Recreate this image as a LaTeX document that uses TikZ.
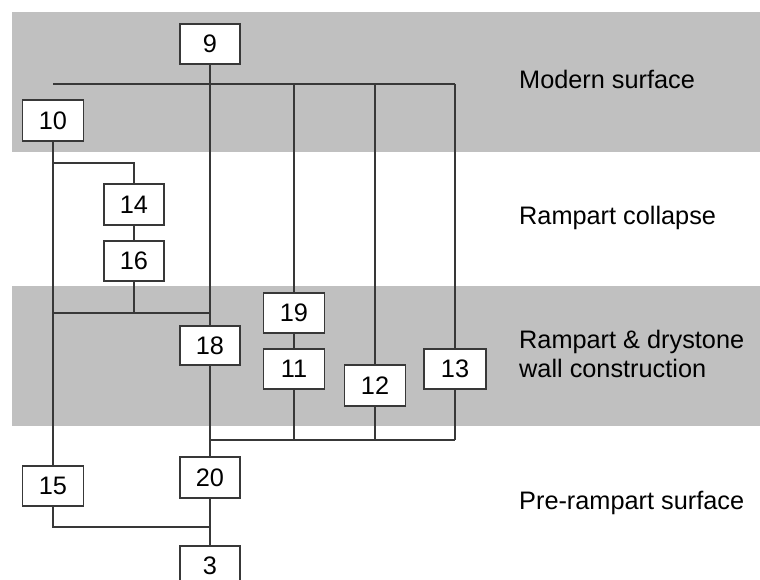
\documentclass[tikz,border=0pt]{standalone}
\usepackage{fontspec}
\setmainfont{Liberation Sans}
\begin{document}
\begin{tikzpicture}[x=1pt,y=-1pt,
  box/.style={draw=linec,line width=1.5pt,fill=white,minimum width=61pt,minimum height=41pt,inner sep=0pt,font=\fontsize{25.3}{29}\selectfont},
  lbl/.style={anchor=base west,inner sep=0pt,font=\fontsize{25.3}{29}\selectfont,text=black},
  conn/.style={draw=linec,line width=1.5pt}]
\definecolor{linec}{HTML}{383838}
\definecolor{band}{HTML}{C0C0C0}
\useasboundingbox (0,0) rectangle (760,580);
\clip (0,0) rectangle (760,580);
\fill[band] (12,12) rectangle (760,152);
\fill[band] (12,286) rectangle (760,426);
% boxes
\node[box,minimum width=60pt,minimum height=40pt] (n9) at (210,44) {9};
\node[box] (n10) at (53,120.5) {10};
\node[box,minimum width=60pt] (n14) at (134,204.5) {14};
\node[box,minimum width=60pt,minimum height=40pt] (n16) at (134,261) {16};
\node[box,minimum width=60pt,minimum height=39pt] (n18) at (210,345.5) {18};
\node[box,minimum height=40pt] (n19) at (294,313) {19};
\node[box,minimum height=40pt] (n11) at (294,369) {11};
\node[box] (n12) at (375,385.5) {12};
\node[box,minimum width=62pt,minimum height=40pt] (n13) at (455,369) {13};
\node[box,minimum height=40pt] (n15) at (53,486) {15};
\node[box,minimum width=60pt] (n20) at (210,477.5) {20};
\node[box,minimum width=60pt,minimum height=40pt] (n3) at (210,566) {3};
% junction coordinates
\coordinate (jt10) at (53,84);
\coordinate (jt19) at (294,84);
\coordinate (jt12) at (375,84);
\coordinate (jt13) at (455,84);
\coordinate (j14a) at (53,163);
\coordinate (j14b) at (134,163);
\coordinate (j16a) at (53,313);
\coordinate (j16b) at (134,313);
\coordinate (j16c) at (210,313);
\coordinate (jb18) at (210,440);
\coordinate (jb11) at (294,440);
\coordinate (jb12) at (375,440);
\coordinate (jb13) at (455,440);
\coordinate (j15) at (53,527);
\coordinate (j3) at (210,527);
% connectors
\draw[conn] (jt10) -- (jt13);
\draw[conn] (n9.south) -- (n18.north);
\draw[conn] (n10.south) -- (n15.north);
\draw[conn] (j14a) -- (j14b) -- (n14.north);
\draw[conn] (n14.south) -- (n16.north);
\draw[conn] (n16.south) -- (j16b);
\draw[conn] (j16a) -- (j16c);
\draw[conn] (jt19) -- (n19.north);
\draw[conn] (n19.south) -- (n11.north);
\draw[conn] (n11.south) -- (jb11);
\draw[conn] (jt12) -- (n12.north);
\draw[conn] (n12.south) -- (jb12);
\draw[conn] (jt13) -- (n13.north);
\draw[conn] (n13.south) -- (jb13);
\draw[conn] (jb18) -- (jb13);
\draw[conn] (n18.south) -- (n20.north);
\draw[conn] (n20.south) -- (n3.north);
\draw[conn] (n15.south) -- (j15) -- (j3);
% labels
\node[lbl] (l1) at (519,89) {Modern surface};
\node[lbl] (l2) at (519,224) {Rampart collapse};
\node[lbl] (l3) at (519,348) {Rampart \& drystone};
\node[lbl] (l4) at (519,377) {wall construction};
\node[lbl] (l5) at (519,509) {Pre-rampart surface};
\end{tikzpicture}
\end{document}
